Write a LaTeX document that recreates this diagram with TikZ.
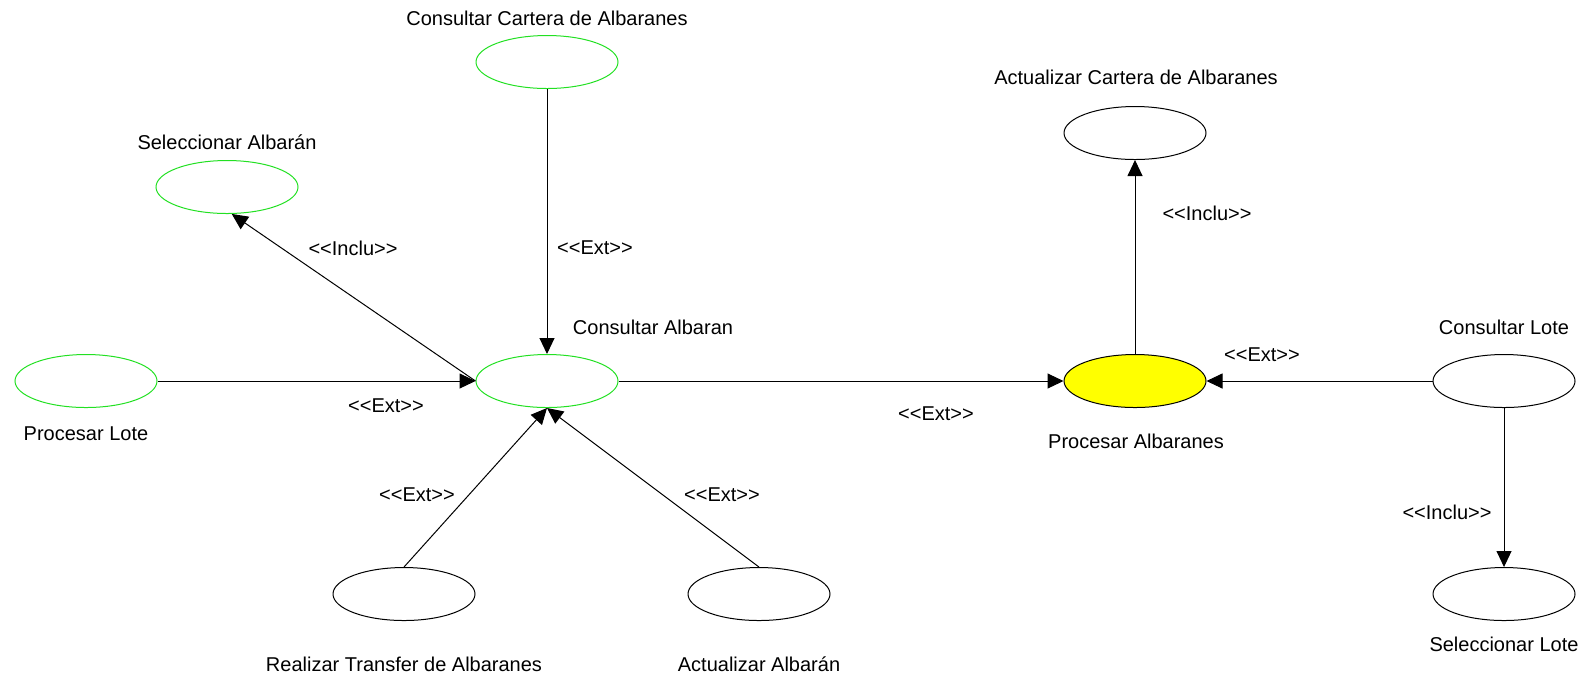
\documentclass[tikz,border=0pt]{standalone}
\usepackage{fontspec}
\setmainfont{Liberation Sans}
\usetikzlibrary{positioning,arrows.meta,shapes.geometric}
\definecolor{ucGreenLine}{HTML}{22E022}
\definecolor{ucYellowFill}{HTML}{FFFF00}

\begin{document}
\begin{tikzpicture}[
    x=0.5pt,y=-0.5pt,
    >={Triangle[length=8pt,width=7.5pt]},
    arrow/.style={->,line width=0.5pt,black},
    usecase/.style={ellipse,draw,line width=0.5pt,minimum width=71pt,minimum height=26.5pt,inner sep=0pt},
    usecase_g/.style={usecase,draw=ucGreenLine},
    usecase_y/.style={usecase,fill=ucYellowFill},
    uclabel/.style={font=\fontsize{10}{12}\selectfont,inner sep=0pt},
    stereo/.style={font=\fontsize{10}{12}\selectfont,inner sep=0pt},
]
\useasboundingbox (0,0) rectangle (1582,677);

% === LEFT CLUSTER ===
\node[usecase_g] (cartera) at (547,62) {};
\node[uclabel] (cartera_l) at (547,18) {Consultar Cartera de Albaranes};
\node[usecase_g] (selalb) at (227,187) {};
\node[uclabel] (selalb_l) at (227,142) {Seleccionar Albarán};
\node[usecase_g] (consalb) at (547,381) {};
\node[uclabel] (consalb_l) at (653,327) {Consultar Albaran};
\node[usecase_g] (proclote) at (86,381) {};
\node[uclabel] (proclote_l) at (86,434) {Procesar Lote};
\node[usecase] (transfer) at (404,594) {};
\node[uclabel] (transfer_l) at (404,664) {Realizar Transfer de Albaranes};
\node[usecase] (actalb) at (759,594) {};
\node[uclabel] (actalb_l) at (759,664) {Actualizar Albarán};

% === RIGHT CLUSTER ===
\node[usecase_y] (procalb) at (1135,381) {};
\node[uclabel] (procalb_l) at (1136,441) {Procesar Albaranes};
\node[usecase] (actcart) at (1135,133) {};
\node[uclabel] (actcart_l) at (1136,77) {Actualizar Cartera de Albaranes};
\node[usecase] (conslote) at (1504,381) {};
\node[uclabel] (conslote_l) at (1504,327) {Consultar Lote};
\node[usecase] (sellote) at (1504,594) {};
\node[uclabel] (sellote_l) at (1504,644) {Seleccionar Lote};

% === RELATIONS ===
\draw[arrow] (cartera) -- (consalb);
\draw[arrow] (consalb.west) -- (selalb.-80);
\draw[arrow] (proclote) -- (consalb);
\draw[arrow] (transfer.north) -- (consalb.south);
\draw[arrow] (actalb.north) -- (consalb.south);
\draw[arrow] (consalb) -- (procalb);
\draw[arrow] (procalb) -- (actcart);
\draw[arrow] (conslote) -- (procalb);
\draw[arrow] (conslote) -- (sellote);

% === STEREOTYPES ===
\node[stereo] (s1) at (595,248) {<{}<Ext>{}>};
\node[stereo] (s2) at (353,248) {<{}<Inclu>{}>};
\node[stereo] (s3) at (386,406) {<{}<Ext>{}>};
\node[stereo] (s4) at (417,495) {<{}<Ext>{}>};
\node[stereo] (s5) at (722,495) {<{}<Ext>{}>};
\node[stereo] (s6) at (936,414) {<{}<Ext>{}>};
\node[stereo] (s7) at (1207,213) {<{}<Inclu>{}>};
\node[stereo] (s8) at (1262,355) {<{}<Ext>{}>};
\node[stereo] (s9) at (1447,512) {<{}<Inclu>{}>};

\end{tikzpicture}
\end{document}
